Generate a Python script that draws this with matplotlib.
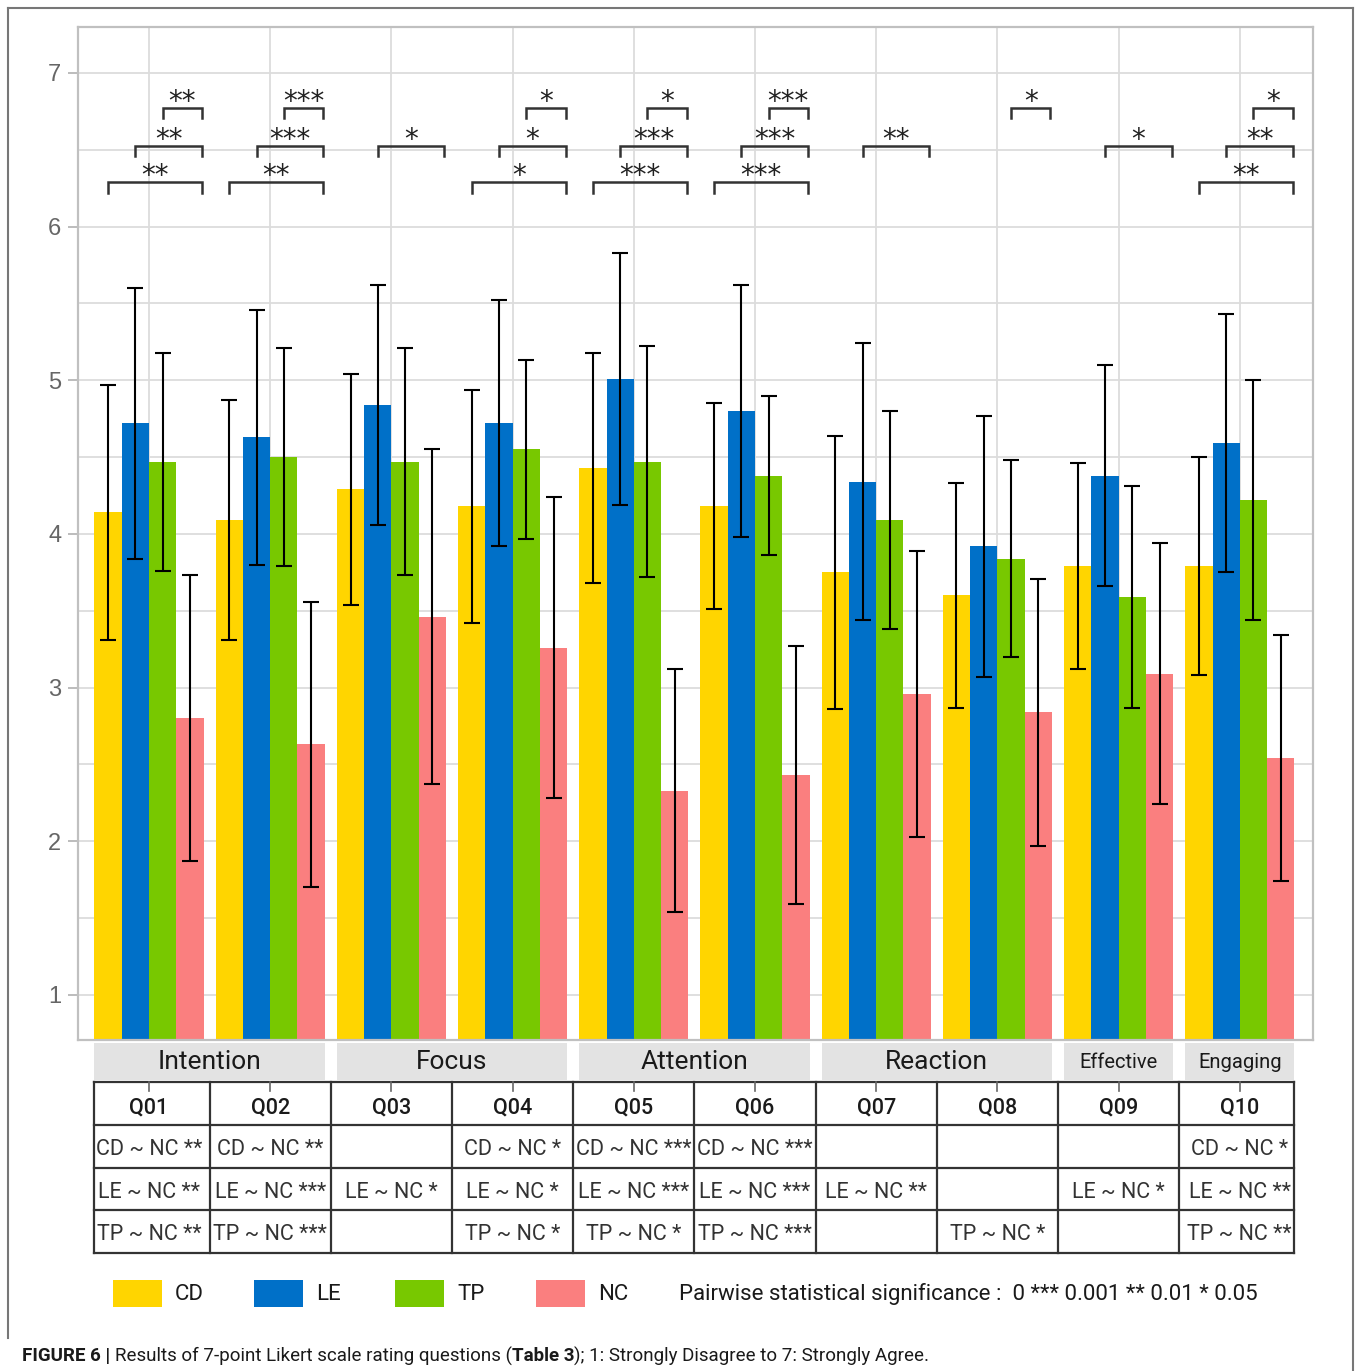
import matplotlib
matplotlib.use("Agg")
import matplotlib.pyplot as plt
import numpy as np
from matplotlib import font_manager
from matplotlib.patches import Rectangle
from matplotlib.transforms import blended_transform_factory

# ---- data ----
questions = ["Q01", "Q02", "Q03", "Q04", "Q05", "Q06", "Q07", "Q08", "Q09", "Q10"]
conditions = ["CD", "LE", "TP", "NC"]
colors = ["#FFD500", "#0070C8", "#78C800", "#FA7F7F"]

mean_cd = [4.14, 4.09, 4.29, 4.18, 4.43, 4.18, 3.75, 3.60, 3.79, 3.79]
mean_le = [4.72, 4.63, 4.84, 4.72, 5.01, 4.80, 4.34, 3.92, 4.38, 4.59]
mean_tp = [4.47, 4.50, 4.47, 4.55, 4.47, 4.38, 4.09, 3.84, 3.59, 4.22]
mean_nc = [2.80, 2.63, 3.46, 3.26, 2.33, 2.43, 2.96, 2.84, 3.09, 2.54]

sd_cd = [0.83, 0.78, 0.75, 0.76, 0.75, 0.67, 0.89, 0.73, 0.67, 0.71]
sd_le = [0.88, 0.83, 0.78, 0.80, 0.82, 0.82, 0.90, 0.85, 0.72, 0.84]
sd_tp = [0.71, 0.71, 0.74, 0.58, 0.75, 0.52, 0.71, 0.64, 0.72, 0.78]
sd_nc = [0.93, 0.93, 1.09, 0.98, 0.79, 0.84, 0.93, 0.87, 0.85, 0.80]

# pairwise significance vs NC, as printed in the table
sig_cd = ["**", "**", "", "*", "***", "***", "", "", "", "*"]
sig_le = ["**", "***", "*", "*", "***", "***", "**", "", "*", "**"]
sig_tp = ["**", "***", "", "*", "*", "***", "", "*", "", "**"]

# labels on the brackets above the bars (lower / middle / top level)
br_low = ["**", "**", "", "*", "***", "***", "", "", "", "**"]
br_mid = ["**", "***", "*", "*", "***", "***", "**", "", "*", "**"]
br_top = ["**", "***", "", "*", "*", "***", "", "*", "", "*"]

categories = ["Intention", "Focus", "Attention", "Reaction", "Effective", "Engaging"]
cat_span = [(0, 1), (2, 3), (4, 5), (6, 7), (8, 8), (9, 9)]

means = [mean_cd, mean_le, mean_tp, mean_nc]
sds = [sd_cd, sd_le, sd_tp, sd_nc]
sigs = [sig_cd, sig_le, sig_tp]
brs = [br_low, br_mid, br_top]

names = {f.name for f in font_manager.fontManager.ttflist}
narrow = "Liberation Sans Narrow" if "Liberation Sans Narrow" in names else "Roboto"

W, H = 1356, 1371
fig = plt.figure(figsize=(W / 100, H / 100), dpi=100)

ax = fig.add_axes([78 / W, 1 - 1040 / H, (1313 - 78) / W, (1040 - 27) / H])
pos = np.arange(1, len(questions) + 1)
bw = 0.225
offs = (np.arange(4) - 1.5) * bw

for k in range(4):
    ax.bar(pos + offs[k], means[k], width=bw, color=colors[k], zorder=2, bottom=0)
    ax.errorbar(pos + offs[k], means[k], yerr=sds[k], fmt="none", ecolor="black",
                elinewidth=1.5, capsize=6, capthick=1.5, zorder=3)

ax.set_xlim(0.414, 10.604)
ax.set_ylim(0.707, 7.299)
ax.set_yticks(range(1, 8))
ax.set_yticks(np.arange(1.5, 7.0, 1.0), minor=True)
ax.set_xticks(pos)
ax.set_xticklabels([])
ax.tick_params(axis="x", length=0)
ax.tick_params(axis="y", which="major", length=7, color="#b0b0b0", width=1.2,
               labelsize=17, labelcolor="#666666", pad=5)
ax.tick_params(axis="y", which="minor", length=0)
for lab in ax.get_yticklabels():
    lab.set_family("Liberation Sans")
ax.grid(True, which="major", color="#dcdcdc", lw=1.3, zorder=0)
ax.grid(True, which="minor", axis="y", color="#dcdcdc", lw=1.3, zorder=0)
ax.set_axisbelow(True)
for sp in ax.spines.values():
    sp.set_color("#c0c0c0")
    sp.set_linewidth(1.6)

# significance brackets
levels = [6.29, 6.525, 6.772]
tip = 0.068
for i, p in enumerate(pos):
    for k in range(3):
        s = brs[k][i]
        if not s:
            continue
        x1 = p + offs[k]
        x2 = p + offs[3] + 0.1
        y = levels[k]
        ax.plot([x1, x1, x2, x2], [y - tip, y, y, y - tip], color="#333333", lw=1.8,
                zorder=4, solid_joinstyle="miter")
        ax.annotate(s, xy=((x1 + x2) / 2, y), xytext=(0, -1.5), textcoords="offset points",
                    ha="center", va="baseline", fontsize=20, family="DejaVu Sans",
                    color="#222222", zorder=5)

# overlay in pixel coordinates for strips, table, legend, caption
ov = fig.add_axes([0, 0, 1, 1], zorder=3)
ov.set_xlim(0, W)
ov.set_ylim(H, 0)
ov.axis("off")
ov.patch.set_alpha(0)
tr = blended_transform_factory(ax.transData, ov.transData)

# outer frame
ov.plot([8, 8], [1338, 8], color="#777777", lw=1.5)
ov.plot([8, 1353], [8, 8], color="#777777", lw=1.5)
ov.plot([1353, 1353], [8, H], color="#777777", lw=1.5)

# category strips
for name, (a, b) in zip(categories, cat_span):
    x0 = pos[a] - 0.45
    x1 = pos[b] + 0.45
    ov.add_patch(Rectangle((x0, 1043), x1 - x0, 37, transform=tr, facecolor="#e3e3e3",
                           edgecolor="none"))
    fs = 19 if a != b else 14.5
    ov.text((x0 + x1) / 2, 1062, name, transform=tr, ha="center", va="center",
            fontsize=fs, family="Roboto", color="#1a1a1a")

# table
rows = [1082, 1125, 1168, 1210, 1253]
edges = np.concatenate([[pos[0] - 0.45], (pos[:-1] + pos[1:]) / 2, [pos[-1] + 0.45]])
for y in rows:
    ov.plot([edges[0], edges[-1]], [y, y], transform=tr, color="#333333", lw=1.6)
for x in edges:
    ov.plot([x, x], [rows[0], rows[-1]], transform=tr, color="#333333", lw=1.6)
for i, p in enumerate(pos):
    ov.plot([p, p], [rows[0], rows[0] + 9], transform=tr, color="#666666", lw=1.2)
    ov.text(p, (rows[0] + rows[1]) / 2 + 4, questions[i], transform=tr, ha="center",
            va="center", fontsize=15.5, family="Roboto", fontweight="medium", color="#1a1a1a")
    for k in range(3):
        s = sigs[k][i]
        if s:
            ov.text(p, (rows[k + 1] + rows[k + 2]) / 2 + 3,
                    f"{conditions[k]} ~ NC {s}", transform=tr, ha="center",
                    va="center", fontsize=15.5, family="Roboto", color="#333333")

# legend
for k, c in enumerate(conditions):
    x0 = 113 + 141 * k
    ov.add_patch(Rectangle((x0, 1280), 49, 27, facecolor=colors[k], edgecolor="none"))
    ov.text(x0 + 62, 1294, c, ha="left", va="center", fontsize=16, family=narrow,
            color="#1a1a1a")
ov.text(679, 1294, "Pairwise statistical significance :  0 *** 0.001 ** 0.01 * 0.05",
        ha="left", va="center", fontsize=16, family=narrow, color="#1a1a1a")

# caption
r = fig.canvas.get_renderer()
x = 22
for s, wgt in [("FIGURE 6 | ", "bold"),
               ("Results of 7-point Likert scale rating questions (", "normal"),
               ("Table 3", "bold"),
               ("); 1: Strongly Disagree to 7: Strongly Agree.", "normal")]:
    t = ov.text(x, 1356, s, ha="left", va="center", fontsize=13.5, family=narrow,
                fontweight=wgt, color="#1a1a1a")
    x += t.get_window_extent(renderer=r).width

fig.savefig("out.png", dpi=100, facecolor="white")
